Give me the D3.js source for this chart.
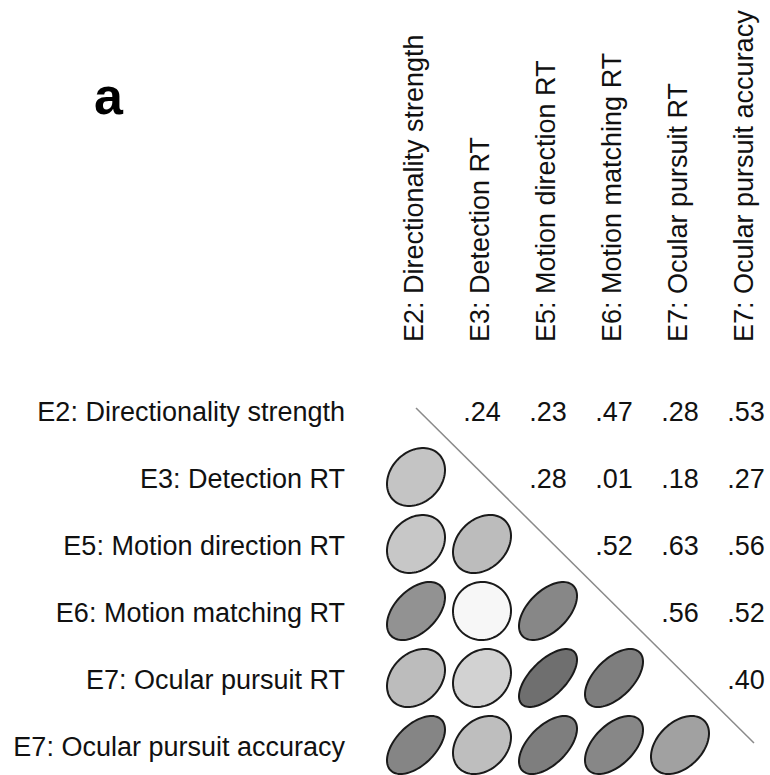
<!DOCTYPE html>
<html><head><meta charset="utf-8">
<script src="https://cdn.jsdelivr.net/npm/d3@7"></script>
<style>body{margin:0;background:#fff}svg{display:block}</style>
</head><body>
<script>
const variables = ["E2: Directionality strength","E3: Detection RT","E5: Motion direction RT","E6: Motion matching RT","E7: Ocular pursuit RT","E7: Ocular pursuit accuracy"];
// upper-triangle correlations, row i, columns i+1..5
const corrRow0 = [0.24, 0.23, 0.47, 0.28, 0.53];
const corrRow1 = [0.28, 0.01, 0.18, 0.27];
const corrRow2 = [0.52, 0.63, 0.56];
const corrRow3 = [0.56, 0.52];
const corrRow4 = [0.40];
const corrRows = [corrRow0, corrRow1, corrRow2, corrRow3, corrRow4];
const panelLabel = "a";

const W = 770, H = 775;
const svg = d3.select("body").append("svg").attr("width", W).attr("height", H);
const font = "Liberation Sans, Arial, sans-serif";

const x = d3.scalePoint().domain(variables).range([416, 746]);
const y = d3.scalePoint().domain(variables).range([410, 745]);
const color = d3.scaleLinear().domain([0, 1]).range(["#f9f9f9", "#1e1e1e"]);

const cells = [];
corrRows.forEach((row, i) => row.forEach((r, k) => {
  const j = i + 1 + k;
  cells.push({row: variables[i], col: variables[j], r});
}));

// panel label
svg.append("text").attr("x", 94).attr("y", 114).attr("font-family", font)
  .attr("font-weight", "bold").attr("font-size", 52).attr("fill", "#000").text(panelLabel);

// row labels
svg.append("g").selectAll("text").data(variables).join("text")
  .attr("x", 345).attr("y", d => y(d) + 11).attr("text-anchor", "end")
  .attr("font-family", font).attr("font-size", 27).attr("fill", "#111").text(d => d);

// column labels
svg.append("g").selectAll("text").data(variables).join("text")
  .attr("transform", d => `translate(${x(d) + 7},342) rotate(-90)`)
  .attr("font-family", font).attr("font-size", 27).attr("fill", "#111").text(d => d);

// diagonal line
const v0 = variables[0], v5 = variables[variables.length - 1];
svg.append("line").attr("x1", x(v0)).attr("y1", y(v0) - 2)
  .attr("x2", x(v5) + 8).attr("y2", y(v5) - 2)
  .attr("stroke", "#8a8a8a").attr("stroke-width", 1.5);

// numbers (upper)
svg.append("g").selectAll("text").data(cells).join("text")
  .attr("x", d => x(d.col)).attr("y", d => y(d.row) + 11).attr("text-anchor", "middle")
  .attr("font-family", font).attr("font-size", 27).attr("fill", "#111")
  .text(d => d3.format(".2f")(d.r).replace(/^0/, ""));

// ellipses (lower, mirrored)
const R = 29;
function ellipsePath(r) {
  const dd = Math.acos(r);
  const pts = d3.range(0, 361, 4).map(a => {
    const t = a * Math.PI / 180;
    return [R * Math.cos(t + dd / 2), -R * Math.cos(t - dd / 2)];
  });
  return d3.line().curve(d3.curveLinearClosed)(pts);
}
svg.append("g").selectAll("path").data(cells).join("path")
  .attr("transform", d => `translate(${x(d.row)},${y(d.col)})`)
  .attr("d", d => ellipsePath(d.r))
  .attr("fill", d => color(d.r)).attr("stroke", "#1a1a1a").attr("stroke-width", 2);
</script>
</body></html>
